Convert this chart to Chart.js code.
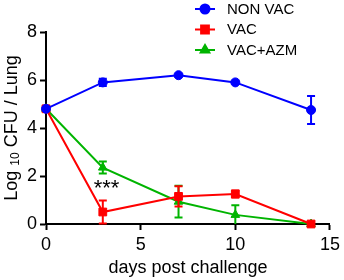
<!DOCTYPE html>
<html>
<head>
<meta charset="utf-8">
<script src="https://cdn.jsdelivr.net/npm/chart.js@4.4.0/dist/chart.umd.min.js"></script>
<style>
  html, body { margin: 0; padding: 0; background: #fff; }
  #wrap { width: 344px; height: 280px; }
</style>
</head>
<body>
<div id="wrap"><canvas id="cfuChart" width="344" height="280"></canvas></div>
<script>
// days post challenge
const days = [0, 3, 7, 10, 14];
// log10 CFU per lung
const nonVac = [4.8, 5.9, 6.2, 5.9, 4.75];
const nonVacErr = [0, 0.15, 0.05, 0.05, 0.58];
const vac = [4.8, 0.5, 1.15, 1.25, 0];
const vacErr = [0, 0.48, 0.42, 0.15, 0];
const vacAzm = [4.8, 2.35, 0.93, 0.38, 0];
const vacAzmErr = [0, 0.25, 0.66, 0.4, 0];
const seriesNames = ["NON VAC", "VAC", "VAC+AZM"];
const xTicks = [0, 5, 10, 15];
const yTicks = [0, 2, 4, 6, 8];

const FONT = "Arial, 'Liberation Sans', sans-serif";
const colors = ["#0000ff", "#ff0000", "#00b400"];
const shapes = ["circle", "rect", "triangle"];
const radii = [4.5, 5.5, 5];
const errs = [nonVacErr, vacErr, vacAzmErr];

function toPoints(vals) {
    return days.map((d, i) => ({ x: d, y: vals[i] }));
}

// draws error bars, legend, axis titles and the *** mark
const extras = {
    id: "extras",
    afterDatasetDraw(chart, args) {
        const ctx = chart.ctx;
        const xs = chart.scales.x, ys = chart.scales.y;
        const e = errs[args.index];
        const vals = chart.data.datasets[args.index].data;
        ctx.save();
        ctx.strokeStyle = colors[args.index];
        ctx.lineWidth = 2;
        vals.forEach((p, i) => {
            if (!e[i]) return;
            const px = xs.getPixelForValue(p.x);
            const top = ys.getPixelForValue(p.y + e[i]);
            const bot = ys.getPixelForValue(Math.max(0, p.y - e[i]));
            ctx.beginPath();
            ctx.moveTo(px, top); ctx.lineTo(px, bot);
            ctx.moveTo(px - 4, top); ctx.lineTo(px + 4, top);
            if (p.y - e[i] > 0) { ctx.moveTo(px - 4, bot); ctx.lineTo(px + 4, bot); }
            ctx.stroke();
        });
        ctx.restore();
    },
    afterDraw(chart) {
        const ctx = chart.ctx;
        const area = chart.chartArea;
        ctx.save();
        // legend
        const rows = [9, 29.5, 50];
        ctx.font = "15px " + FONT;
        ctx.textBaseline = "middle";
        ctx.textAlign = "left";
        seriesNames.forEach((name, i) => {
            ctx.strokeStyle = colors[i];
            ctx.fillStyle = colors[i];
            ctx.lineWidth = 2;
            ctx.beginPath();
            ctx.moveTo(195, rows[i]); ctx.lineTo(215, rows[i]);
            ctx.stroke();
            Chart.helpers.drawPoint(ctx, { pointStyle: shapes[i], radius: radii[i], borderWidth: 1 }, 205, rows[i]);
            ctx.fillStyle = "#000";
            ctx.fillText(name, 227, rows[i] + 0.5);
        });
        // x title
        ctx.font = "18px " + FONT;
        ctx.textAlign = "center";
        ctx.fillText("days post challenge", (area.left + area.right) / 2, 268);
        // y title with subscript
        ctx.translate(12, (area.top + area.bottom) / 2);
        ctx.rotate(-Math.PI / 2);
        const big = "18px " + FONT, small = "12px " + FONT;
        ctx.font = big; const w1 = ctx.measureText("Log ").width;
        ctx.font = small; const w2 = ctx.measureText("10").width;
        ctx.font = big; const w3 = ctx.measureText(" CFU / Lung").width;
        let x0 = -(w1 + w2 + w3) / 2;
        ctx.textAlign = "left";
        ctx.font = big; ctx.fillText("Log ", x0, 0);
        ctx.font = small; ctx.fillText("10", x0 + w1, 4);
        ctx.font = big; ctx.fillText(" CFU / Lung", x0 + w1 + w2, 0);
        ctx.restore();
        // significance stars
        ctx.save();
        ctx.font = "22px " + FONT;
        ctx.fillStyle = "#000";
        ctx.textAlign = "center";
        ctx.textBaseline = "middle";
        ctx.fillText("***", chart.scales.x.getPixelForValue(3.2), chart.scales.y.getPixelForValue(1.45));
        ctx.restore();
    }
};

function makeSet(i, vals) {
    return {
        label: seriesNames[i],
        data: toPoints(vals),
        borderColor: colors[i],
        backgroundColor: colors[i],
        borderWidth: 2,
        pointStyle: shapes[i],
        pointRadius: radii[i],
        pointBorderWidth: 1,
        tension: 0,
        clip: false
    };
}

const ctx = document.getElementById("cfuChart").getContext("2d");
new Chart(ctx, {
    type: "line",
    data: {
        datasets: [makeSet(0, nonVac), makeSet(1, vac), makeSet(2, vacAzm)]
    },
    options: {
        responsive: false,
        animation: false,
        layout: { padding: { top: 32, right: 11, left: 0, bottom: 0 } },
        plugins: { legend: { display: false }, tooltip: { enabled: false } },
        scales: {
            x: {
                type: "linear",
                min: 0, max: 15,
                afterBuildTicks: s => { s.ticks = xTicks.map(v => ({ value: v })); },
                afterFit: s => { s.height = 56; },
                border: { display: true, color: "#000", width: 2 },
                grid: { drawOnChartArea: false, tickLength: 6, tickColor: "#000", tickWidth: 2 },
                ticks: { color: "#000", font: { size: 18, family: FONT }, padding: 4, maxRotation: 0 }
            },
            y: {
                min: 0, max: 8,
                afterBuildTicks: s => { s.ticks = yTicks.map(v => ({ value: v })); },
                afterFit: s => { s.width = 46; },
                border: { display: true, color: "#000", width: 2 },
                grid: { drawOnChartArea: false, tickLength: 6, tickColor: "#000", tickWidth: 2 },
                ticks: { color: "#000", font: { size: 18, family: FONT }, padding: 3 }
            }
        }
    },
    plugins: [extras]
});
</script>
</body>
</html>
